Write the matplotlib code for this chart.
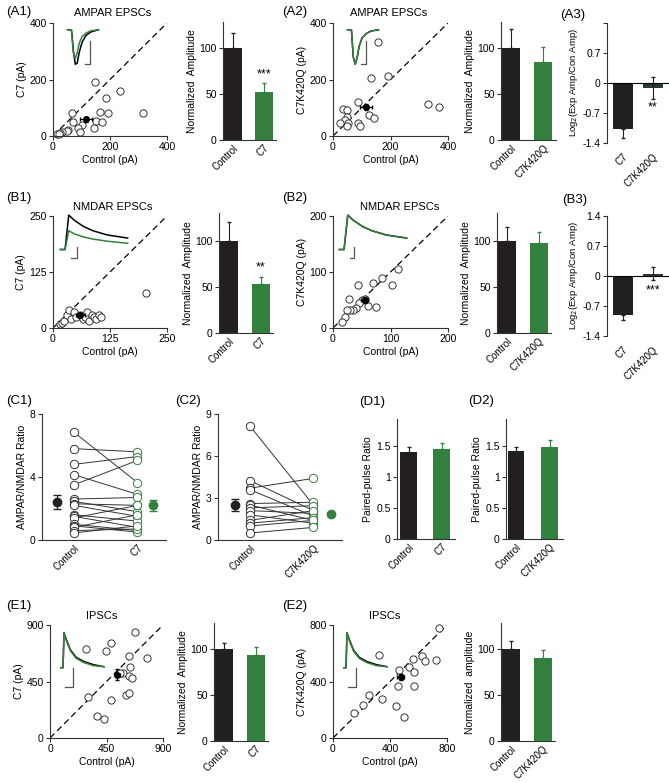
import numpy as np
import matplotlib
matplotlib.use("Agg")
import matplotlib.pyplot as plt

plt.rcParams['font.family'] = ['Liberation Sans', 'DejaVu Sans']
plt.rcParams['font.size'] = 7.5

W, H = 669, 783
BLACK = '#231f20'
GREEN = '#34803e'
GREY = '#555555'

# ---------------- data ----------------
# A1 AMPAR: control vs C7 (pA)
a1_ctrl = [147, 235, 186, 66, 165, 194, 317, 71, 151, 171, 101, 89, 145, 95, 54, 50, 30, 25, 15, 20]
a1_exp = [192, 160, 136, 80, 84, 80, 80, 51, 54, 51, 39, 30, 27, 13, 21, 18, 15, 10, 8, 6]
a1_mean = (116, 59, 22, 8)
# A2 AMPAR: control vs C7K420Q
a2_ctrl = [158, 132, 192, 88, 36, 50, 48, 42, 53, 24, 48, 88, 94, 126, 143, 331, 369]
a2_exp = [332, 204, 212, 121, 96, 92, 66, 57, 47, 45, 36, 47, 35, 74, 63, 113, 102]
a2_mean = (115, 102, 22, 10)
# B1 NMDAR: control vs C7
b1_ctrl = [15, 20, 25, 30, 35, 40, 45, 50, 60, 65, 70, 75, 80, 85, 90, 95, 100, 105, 205]
b1_exp = [8, 12, 15, 30, 40, 20, 35, 25, 30, 20, 25, 35, 15, 30, 25, 20, 30, 25, 78]
b1_mean = (60, 28, 10, 4)
# B2 NMDAR: control vs C7K420Q
b2_ctrl = [113, 86, 69, 103, 43, 27, 50, 55, 45, 40, 35, 30, 25, 60, 20, 15, 75]
b2_exp = [105, 89, 81, 77, 77, 51, 50, 52, 45, 35, 32, 32, 32, 40, 20, 10, 38]
b2_mean = (55, 50, 6, 5)
# E1 IPSCs: control vs C7
e1_ctrl = [677, 486, 287, 446, 631, 771, 637, 579, 632, 653, 560, 305, 605, 632, 483, 378, 430]
e1_exp = [844, 754, 706, 694, 653, 641, 563, 520, 497, 478, 520, 324, 342, 356, 303, 175, 149]
e1_mean = (536, 505, 20, 45)
# E2 IPSCs: control vs C7K420Q
e2_ctrl = [747, 323, 622, 559, 646, 723, 533, 570, 463, 458, 570, 255, 346, 213, 147, 442, 498]
e2_exp = [778, 587, 582, 562, 544, 551, 506, 470, 482, 369, 369, 305, 274, 232, 175, 229, 151]
e2_mean = (475, 430, 25, 20)

# normalized amplitudes (mean, sem)
a1_bar = [100, 52]; a1_err = [16, 10]
a2_bar = [100, 85]; a2_err = [20, 16]
b1_bar = [100, 53]; b1_err = [20, 8]
b2_bar = [100, 98]; b2_err = [15, 11]
e1_bar = [100, 93]; e1_err = [6, 9]
e2_bar = [100, 90]; e2_err = [9, 9]

# log2 ratios
a3_vals = [-1.08, -0.12]; a3_err = [0.2, 0.25]
b3_vals = [-0.92, 0.05]; b3_err = [0.1, 0.15]

# C1 AMPA/NMDA ratio, paired control -> C7
c1_ctrl = [6.85, 5.8, 4.8, 4.15, 3.5, 2.6, 2.45, 2.3, 2.2, 1.6, 1.5, 1.4, 1.0, 0.9, 0.8, 0.6, 0.45]
c1_exp = [3.65, 5.6, 5.3, 2.9, 5.05, 2.7, 1.8, 2.2, 1.5, 1.2, 0.8, 2.2, 0.6, 0.5, 1.6, 0.7, 0.9]
c1_means = [2.42, 2.22]; c1_sems = [0.42, 0.35]
# C2 paired control -> C7K420Q
c2_ctrl = [8.15, 4.25, 3.7, 3.6, 2.6, 2.5, 2.3, 2.1, 1.8, 1.4, 1.2, 1.0, 0.5]
c2_exp = [2.5, 2.1, 4.4, 1.7, 2.7, 1.4, 2.45, 1.9, 1.2, 2.1, 1.6, 1.4, 0.9]
c2_means = [2.5, 1.85]; c2_sems = [0.4, 0.1]

# paired-pulse ratio
d1_bar = [1.40, 1.46]; d1_err = [0.08, 0.09]
d2_bar = [1.43, 1.49]; d2_err = [0.05, 0.11]

# example traces (time, current in pixel-like units)
amp_t = [0, 4, 5, 6, 8, 10, 12, 15, 19, 24, 32]
amp_blk = [0, 0, -8, -18, -30, -29, -20, -11, -5, -2, 0]
amp_grn = [0, 0, -10, -20, -25, -20, -12, -6, -3, -1, 0]
nm_t = [0, 5, 9, 15, 25, 35, 50, 72]
nm_blk = [0, 0, 33, 28, 22, 18, 14, 11]
nm_grn = [0, 0, 18, 15, 12, 10, 8, 6]
ip_t = [0, 2, 3, 6, 10, 16, 24, 34, 45]
ip_blk = [0, 0, 34, 26, 17, 10, 6, 3, 1]
ip_grn = [0, 0, 34, 25, 16, 9, 5, 2, 1]

fig = plt.figure(figsize=(W / 100, H / 100), dpi=100)


def px_axes(l, t, r, b):
    return fig.add_axes([l / W, 1 - b / H, (r - l) / W, (b - t) / H])


def style(ax, bottom=True):
    for s in ['top', 'right']:
        ax.spines[s].set_visible(False)
    for s in ['left', 'bottom']:
        ax.spines[s].set_linewidth(0.8)
        ax.spines[s].set_color('#333333')
    if not bottom:
        ax.spines['bottom'].set_visible(False)
    ax.tick_params(length=3, width=0.8, labelsize=7.5, pad=1.5, color='#333333')


def label(x, y, s, size=9.5, **kw):
    fig.text(x / W, 1 - y / H, s, fontsize=size, va='center', **kw)


def scatter_panel(ax, x, y, mean, lim, ticks, ylabel):
    style(ax)
    ax.plot([0, lim], [0, lim], ls=(0, (5, 3)), color='k', lw=0.9)
    ax.plot(x, y, 'o', mfc='white', mec='#333333', ms=5.2, mew=0.7, clip_on=False)
    ax.errorbar(mean[0], mean[1], xerr=mean[2], yerr=mean[3], fmt='o', color='k',
                ms=4, elinewidth=0.8, capsize=1.5)
    ax.set_xlim(0, lim)
    ax.set_ylim(0, lim)
    ax.set_xticks(ticks)
    ax.set_yticks(ticks)
    ax.set_xlabel('Control (pA)', labelpad=2)
    ax.set_ylabel(ylabel, labelpad=2)


def bar_panel(ax, vals, errs, names, ylabel, ylim=(0, 128), yticks=(0, 50, 100),
              xlim=(-0.32, 1.39), width=0.56, ytl=None):
    style(ax)
    x = np.arange(len(vals))
    cols = [BLACK, GREEN]
    ax.bar(x, vals, width=width, color=cols)
    for i in range(len(vals)):
        ax.errorbar(x[i], vals[i], yerr=[[0], [errs[i]]], fmt='none', ecolor=cols[i],
                    elinewidth=0.8, capsize=1.5)
    ax.set_xlim(*xlim)
    ax.set_ylim(*ylim)
    ax.set_yticks(yticks)
    if ytl is not None:
        ax.set_yticklabels(ytl)
    ax.set_xticks(x)
    ax.set_xticklabels(names, rotation=45, ha='right', rotation_mode='anchor', fontsize=7)
    ax.tick_params(axis='x', length=0, pad=2)
    ax.set_ylabel(ylabel, labelpad=2)


def log_panel(ax, vals, errs, names, ytl, star):
    style(ax, bottom=False)
    x = np.arange(len(vals))
    ax.bar(x, vals, width=0.66, color=[BLACK, '#2d3a2f'])
    ax.errorbar(x[0], vals[0], yerr=[[errs[0]], [0]], fmt='none', ecolor=BLACK,
                elinewidth=0.8, capsize=1.5)
    ax.errorbar(x[1], vals[1], yerr=errs[1], fmt='none', ecolor=BLACK,
                elinewidth=0.8, capsize=1.5)
    ax.axhline(0, color='k', lw=0.8, clip_on=False)
    ax.set_xlim(-0.53, 1.53)
    ax.set_ylim(-1.4, 1.4)
    ax.set_yticks([-1.4, -0.7, 0, 0.7, 1.4])
    ax.set_yticklabels(ytl)
    ax.set_xticks(x)
    ax.set_xticklabels(names, rotation=45, ha='right', rotation_mode='anchor', fontsize=7)
    ax.tick_params(axis='x', length=0, pad=6)
    ax.set_ylabel('Log$_2$(Exp Amp/Con Amp)', labelpad=2, fontsize=6.8)
    ax.text(x[1], min(vals[1], 0) - errs[1] - 0.05, star, ha='center', va='top', fontsize=9)


def paired_panel(ax, ctrl, exp, means, sems, ylim, yticks, names, xm):
    style(ax)
    for c, e in zip(ctrl, exp):
        ax.plot([0, 1], [c, e], color='#333333', lw=0.7)
    ax.plot(np.zeros(len(ctrl)), ctrl, 'o', mfc='white', mec='#333333', ms=6, mew=0.7)
    ax.plot(np.ones(len(exp)), exp, 'o', mfc='white', mec=GREEN, ms=6, mew=0.7)
    ax.errorbar(xm[0], means[0], yerr=sems[0], fmt='o', color=BLACK, ms=6,
                elinewidth=0.8, capsize=3)
    ax.errorbar(xm[1], means[1], yerr=sems[1], fmt='o', color=GREEN, ms=6,
                elinewidth=0.8, capsize=3)
    ax.set_xlim(-0.5, 1.45)
    ax.set_ylim(*ylim)
    ax.set_yticks(yticks)
    ax.set_xticks([0, 1])
    ax.set_xticklabels(names, rotation=45, ha='right', rotation_mode='anchor', fontsize=7)
    ax.tick_params(axis='x', length=0, pad=2)
    ax.set_ylabel('AMPAR/NMDAR Ratio', labelpad=2)


def trace_inset(l, t, r, b, tt, blk, grn, sbar):
    ax = px_axes(l, t, r, b)
    ax.axis('off')
    ax.plot(tt, blk, color='k', lw=1.1)
    ax.plot(tt, grn, color=GREEN, lw=1.1)
    ax.plot(sbar[0], sbar[1], color=GREY, lw=0.9)
    return ax


# ---------------- row A ----------------
ax = px_axes(53, 23, 167, 136)
scatter_panel(ax, a1_ctrl, a1_exp, a1_mean, 400, [0, 200, 400], 'C7 (pA)')
trace_inset(66, 28, 100, 66, amp_t, amp_blk, amp_grn, ([18, 23, 23], [-30, -30, -10]))
ax = px_axes(223, 22, 276, 140)
bar_panel(ax, a1_bar, a1_err, ['Control', 'C7'], 'Normalized  Amplitude')
ax.text(1, a1_bar[1] + a1_err[1] + 3, '***', ha='center', va='bottom', fontsize=9)

ax = px_axes(333, 23, 448, 136)
scatter_panel(ax, a2_ctrl, a2_exp, a2_mean, 400, [0, 200, 400], 'C7K420Q (pA)')
trace_inset(346, 28, 380, 66, amp_t, amp_grn, amp_grn, ([14, 19, 19], [-25, -25, -8]))
ax = px_axes(501, 22, 556, 140)
bar_panel(ax, a2_bar, a2_err, ['Control', 'C7K420Q'], 'Normalized  Amplitude')

ax = px_axes(607, 23, 669, 143)
log_panel(ax, a3_vals, a3_err, ['C7', 'C7K420Q'], ['-1.4', '-0.7', '0', '0.7', ''], '**')

# ---------------- row B ----------------
ax = px_axes(53, 216, 167, 328)
scatter_panel(ax, b1_ctrl, b1_exp, b1_mean, 250, [0, 125, 250], 'C7 (pA)')
trace_inset(57, 213, 131, 260, nm_t, nm_blk, nm_grn, ([11, 18, 18], [-8, -8, 2]))
ax = px_axes(219, 213, 273, 333)
bar_panel(ax, b1_bar, b1_err, ['Control', 'C7'], 'Normalized  Amplitude', ylim=(0, 130))
ax.text(1, b1_bar[1] + b1_err[1] + 3, '**', ha='center', va='bottom', fontsize=9)

ax = px_axes(333, 216, 448, 328)
scatter_panel(ax, b2_ctrl, b2_exp, b2_mean, 200, [0, 100, 200], 'C7K420Q (pA)')
trace_inset(336, 213, 410, 260, nm_t, nm_blk, nm_blk, ([11, 16, 16], [-8, -8, 2]))
ax = px_axes(497, 213, 551, 333)
bar_panel(ax, b2_bar, b2_err, ['Control', 'C7K420Q'], 'Normalized  Amplitude', ylim=(0, 130))

ax = px_axes(607, 216, 669, 336)
log_panel(ax, b3_vals, b3_err, ['C7', 'C7K420Q'], ['-1.4', '-0.7', '0', '0.7', '1.4'], '***')

# ---------------- row C / D ----------------
ax = px_axes(42, 414, 166, 540)
paired_panel(ax, c1_ctrl, c1_exp, c1_means, c1_sems, (0, 8), [0, 4, 8],
             ['Control', 'C7'], [-0.27, 1.24])
ax = px_axes(218, 414, 342, 540)
paired_panel(ax, c2_ctrl, c2_exp, c2_means, c2_sems, (0, 9), [0, 3, 6, 9],
             ['Control', 'C7K420Q'], [-0.23, 1.27])

ax = px_axes(397, 419, 455, 539)
bar_panel(ax, d1_bar, d1_err, ['Control', 'C7'], 'Paired-pulse Ratio', ylim=(0, 1.94),
          yticks=[0, 0.5, 1, 1.5], xlim=(-0.35, 1.4), width=0.52, ytl=['0', '0.5', '1', '1.5'])
ax = px_axes(506, 419, 563, 539)
bar_panel(ax, d2_bar, d2_err, ['Control', 'C7K420Q'], 'Paired-pulse Ratio', ylim=(0, 1.94),
          yticks=[0, 0.5, 1, 1.5], xlim=(-0.3, 1.4), width=0.5, ytl=['0', '0.5', '1', '1.5'])

# ---------------- row E ----------------
ax = px_axes(50, 625, 163, 738)
scatter_panel(ax, e1_ctrl, e1_exp, e1_mean, 900, [0, 450, 900], 'C7 (pA)')
trace_inset(59, 630, 106, 690, ip_t, ip_blk, ip_grn, ([4, 12, 12], [-19, -19, 0]))
ax = px_axes(214, 623, 268, 741)
bar_panel(ax, e1_bar, e1_err, ['Control', 'C7'], 'Normalized  Amplitude')

ax = px_axes(333, 625, 447, 738)
scatter_panel(ax, e2_ctrl, e2_exp, e2_mean, 800, [0, 400, 800], 'C7K420Q (pA)')
trace_inset(342, 630, 389, 690, ip_t, ip_blk, ip_grn, ([4, 12, 12], [-19, -19, 0]))
ax = px_axes(501, 623, 555, 741)
bar_panel(ax, e2_bar, e2_err, ['Control', 'C7K420Q'], 'Normalized  amplitude')

# ---------------- titles and panel labels ----------------
for x, y, s in [(113, 13, 'AMPAR EPSCs'), (389, 13, 'AMPAR EPSCs'),
                (113, 207, 'NMDAR EPSCs'), (400, 207, 'NMDAR EPSCs'),
                (102, 616, 'IPSCs'), (385, 616, 'IPSCs')]:
    label(x, y, s, size=8, ha='center')

for x, y, s in [(6, 12, '(A1)'), (282, 12, '(A2)'), (560, 15, '(A3)'),
                (6, 198, '(B1)'), (282, 198, '(B2)'), (562, 200, '(B3)'),
                (6, 401, '(C1)'), (175, 401, '(C2)'), (359, 402, '(D1)'),
                (468, 401, '(D2)'), (6, 606, '(E1)'), (282, 606, '(E2)')]:
    label(x, y, s, size=9.5, ha='left')

fig.savefig('out.png', dpi=100)
